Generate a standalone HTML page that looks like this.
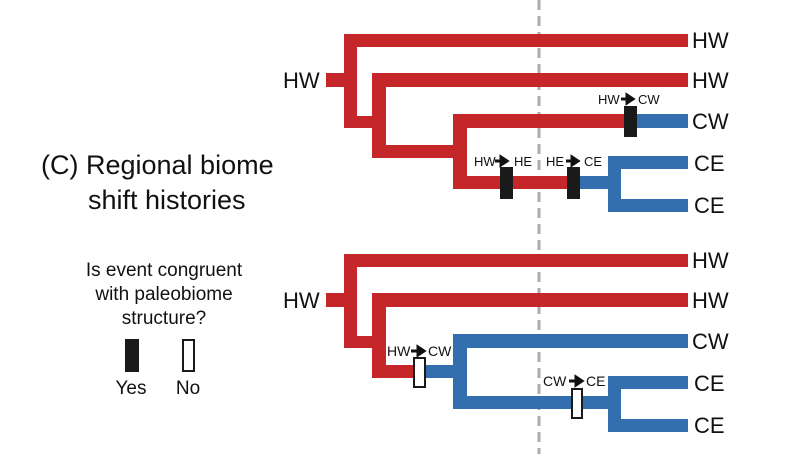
<!DOCTYPE html>
<html><head><meta charset="utf-8"><style>
html,body{margin:0;padding:0;background:#fff;}
svg{display:block;font-family:"Liberation Sans","DejaVu Sans",sans-serif;}
</style></head><body>
<svg width="798" height="454" viewBox="0 0 798 454">
<line x1="539" y1="0" x2="539" y2="454" stroke="#ababab" stroke-width="3" stroke-dasharray="10,6"/>

<g>
  <rect x="326" y="73" width="20" height="14" fill="#c5262a"/>
  <rect x="344" y="34" width="13" height="94" fill="#c5262a"/>
  <rect x="344" y="34" width="344" height="13" fill="#c5262a"/>
  <rect x="344" y="116" width="40" height="12" fill="#c5262a"/>
  <rect x="372" y="73" width="14" height="85" fill="#c5262a"/>
  <rect x="372" y="73" width="316" height="14" fill="#c5262a"/>
  <rect x="372" y="145" width="90" height="13" fill="#c5262a"/>
  <rect x="453" y="114" width="14" height="75" fill="#c5262a"/>
  <rect x="453" y="114" width="178" height="14" fill="#c5262a"/>
  <rect x="630" y="114" width="58" height="14" fill="#336fae"/>
  <rect x="453" y="176" width="122" height="13" fill="#c5262a"/>
  <rect x="574" y="176" width="40" height="13" fill="#336fae"/>
  <rect x="608" y="156" width="13" height="56" fill="#336fae"/>
  <rect x="608" y="156" width="80" height="13" fill="#336fae"/>
  <rect x="608" y="199" width="80" height="13" fill="#336fae"/>
  <rect x="500" y="167" width="13" height="32" fill="#1a1a1a"/>
  <rect x="567" y="167" width="13" height="32" fill="#1a1a1a"/>
  <rect x="624" y="106" width="13" height="31" fill="#1a1a1a"/>
  <g font-size="13" fill="#111">
  <text x="474" y="166">HW</text>
  <text x="514" y="166">HE</text>
  <text x="546" y="166">HE</text>
  <text x="584" y="166">CE</text>
  <text x="598" y="104">HW</text>
  <text x="638" y="104">CW</text>
  </g>
  <path d="M495 161h8M501 157l6 4-6 4z" stroke="#111" stroke-width="3" fill="#111"/>
  <path d="M566 161h8M572 157l6 4-6 4z" stroke="#111" stroke-width="3" fill="#111"/>
  <path d="M621 99h8M627 95l6 4-6 4z" stroke="#111" stroke-width="3" fill="#111"/>
</g>

<g>
  <rect x="326" y="293" width="20" height="14" fill="#c5262a"/>
  <rect x="344" y="254" width="13" height="94" fill="#c5262a"/>
  <rect x="344" y="254" width="344" height="13" fill="#c5262a"/>
  <rect x="344" y="336" width="40" height="12" fill="#c5262a"/>
  <rect x="372" y="293" width="14" height="85" fill="#c5262a"/>
  <rect x="372" y="293" width="316" height="14" fill="#c5262a"/>
  <rect x="372" y="365" width="46" height="13" fill="#c5262a"/>
  <rect x="418" y="365" width="44" height="13" fill="#336fae"/>
  <rect x="453" y="334" width="14" height="75" fill="#336fae"/>
  <rect x="453" y="334" width="235" height="14" fill="#336fae"/>
  <rect x="453" y="396" width="161" height="13" fill="#336fae"/>
  <rect x="608" y="376" width="13" height="56" fill="#336fae"/>
  <rect x="608" y="376" width="80" height="13" fill="#336fae"/>
  <rect x="608" y="419" width="80" height="13" fill="#336fae"/>
  <rect x="414" y="358" width="11" height="29" fill="#fff" stroke="#1a1a1a" stroke-width="2"/>
  <rect x="572" y="389" width="10" height="29" fill="#fff" stroke="#1a1a1a" stroke-width="2"/>
  <g font-size="14" fill="#111">
  <text x="387" y="356">HW</text>
  <text x="428" y="356">CW</text>
  <text x="543" y="386">CW</text>
  <text x="586" y="386">CE</text>
  </g>
  <path d="M411 351h9M418 347l6 4-6 4z" stroke="#111" stroke-width="3" fill="#111"/>
  <path d="M569 381h9M576 377l6 4-6 4z" stroke="#111" stroke-width="3" fill="#111"/>
</g>

<g font-size="22" fill="#111">
  <text x="692" y="48">HW</text>
  <text x="692" y="88">HW</text>
  <text x="692" y="129">CW</text>
  <text x="694" y="171">CE</text>
  <text x="694" y="213">CE</text>
  <text x="692" y="268">HW</text>
  <text x="692" y="308">HW</text>
  <text x="692" y="349">CW</text>
  <text x="694" y="391">CE</text>
  <text x="694" y="433">CE</text>
  <text x="283" y="88">HW</text>
  <text x="283" y="308">HW</text>
</g>

<text x="41" y="174" font-size="27" fill="#111">(C)  Regional biome</text>
<text x="88" y="209" font-size="27" fill="#111">shift histories</text>

<g font-size="19" fill="#111" text-anchor="middle">
  <text x="164" y="276">Is event congruent</text>
  <text x="164" y="300">with paleobiome</text>
  <text x="164" y="324">structure?</text>
  <rect x="125" y="339" width="14" height="33" fill="#1a1a1a"/>
  <rect x="183" y="340" width="11" height="31" fill="#fff" stroke="#1a1a1a" stroke-width="2"/>
  <text x="131" y="394">Yes</text>
  <text x="188" y="394">No</text>
</g>
</svg>
</body></html>
